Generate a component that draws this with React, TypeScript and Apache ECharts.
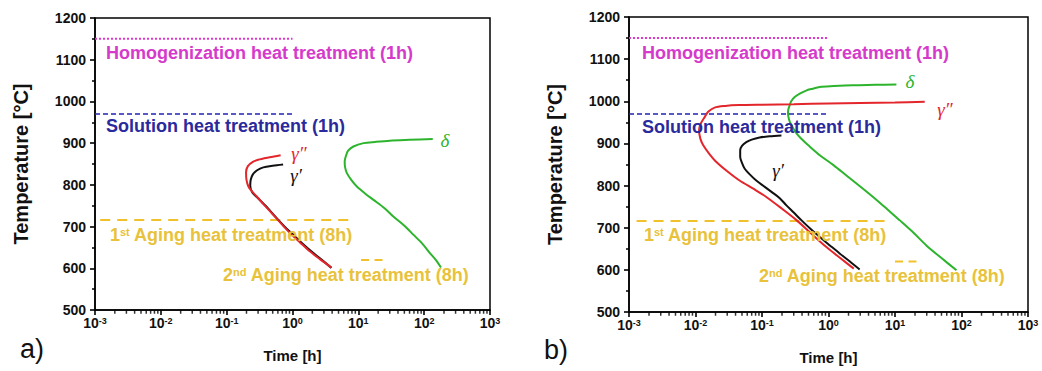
import React, { useEffect, useRef } from "react";
import * as echarts from "echarts";

// ---- Panel a) curves: [time (h), temperature (°C)]
const gppA_time = [0.66, 0.45, 0.3, 0.25, 0.21, 0.197, 0.2, 0.214, 0.24, 0.286, 0.37, 0.485, 0.74, 0.92, 1.3, 1.85, 2.6, 3.9];
const gppA_temp = [871, 866, 860, 855, 845, 830, 812, 796, 785, 772, 752, 732, 700, 684, 662, 640, 622, 602];
const gpA_time = [0.72, 0.5, 0.36, 0.29, 0.25, 0.232, 0.228, 0.245, 0.3, 0.4, 0.52, 0.78, 1.0, 1.4, 1.95, 2.7, 3.9];
const gpA_temp = [849, 846, 842, 835, 825, 812, 798, 782, 768, 748, 728, 698, 682, 660, 640, 622, 601];
const dA_time = [135, 60, 30, 18, 12, 8.4, 7, 6.5, 6.2, 6.3, 6.7, 7.8, 9.5, 12.5, 17, 25, 34, 50, 69, 95, 123, 150, 180];
const dA_temp = [910, 908, 906, 903, 900, 892, 882, 870, 856, 842, 828, 812, 796, 780, 764, 744, 724, 702, 680, 658, 636, 620, 602];

// ---- Panel b) curves
const gppB_time = [28, 10, 3, 1, 0.3, 0.1, 0.045, 0.028, 0.0194, 0.0155, 0.0138, 0.012, 0.0113, 0.0118, 0.013, 0.016, 0.0206, 0.03, 0.046, 0.075, 0.116, 0.2, 0.33, 0.55, 0.93, 1.5, 2.4];
const gppB_temp = [999, 997, 996, 995, 993, 992, 991, 989, 985, 975, 963, 947, 931, 912, 896, 876, 856, 834, 812, 792, 773, 745, 718, 686, 654, 628, 603];
const gpB_time = [0.196, 0.13, 0.092, 0.07, 0.058, 0.05, 0.047, 0.047, 0.05, 0.055, 0.066, 0.082, 0.11, 0.139, 0.185, 0.233, 0.3, 0.39, 0.53, 0.74, 1.05, 1.47, 2.1, 2.94];
const gpB_temp = [919, 917, 914, 909, 903, 894, 884, 868, 854, 840, 826, 812, 797, 785, 770, 753, 736, 718, 698, 678, 658, 639, 620, 601];
const dB_time = [10.5, 5, 2.3, 1.2, 0.74, 0.55, 0.47, 0.37, 0.31, 0.275, 0.26, 0.248, 0.246, 0.255, 0.277, 0.32, 0.39, 0.52, 0.74, 1.2, 1.86, 3, 4.68, 7.5, 11.7, 19, 29.6, 50, 84];
const dB_temp = [1040, 1039, 1038, 1036, 1034, 1029, 1026, 1018, 1010, 1000, 990, 980, 971, 957, 943, 927, 911, 893, 872, 848, 824, 798, 773, 745, 718, 688, 658, 628, 599];

// ---- Heat treatments: [startTime, endTime, temperature] per panel
const homogA = [0.001, 1, 1150];
const solutionA = [0.001, 1, 970];
const aging1A = [0.0012, 8, 716];
const aging2A = [11, 24, 620];
const homogB = [0.001, 1, 1150];
const solutionB = [0.001, 1, 970];
const aging1B = [0.0013, 8.3, 716];
const aging2B = [10, 21, 620];

// ---- Axes
const xMin = 0.001;
const xMax = 1000;
const yMin = 500;
const yMax = 1200;
const yInterval = 100;
const decades = [0.001, 0.01, 0.1, 1, 10, 100];
const minorMultipliers = [2, 3, 4, 5, 6, 7, 8, 9];

const FONT = '"Liberation Sans", Arial, sans-serif';
const GREEK = '"Liberation Serif", "DejaVu Serif", serif';

const C_MAG = "#e236d4";
const C_MAG_T = "#d63acb";
const C_NAVY = "#2323b2";
const C_NAVY_T = "#2a2a9c";
const C_GOLD = "#f1c12c";
const C_GOLD_T = "#e8c23a";
const C_RED = "#e3262b";
const C_GREEN = "#2db42d";
const C_BLACK = "#111111";

const zip = (t: number[], T: number[]) => t.map((v, i) => [v, T[i]]);

export default function App() {
  const ref = useRef<HTMLDivElement>(null);

  useEffect(() => {
    if (!ref.current) return;
    const chart = echarts.init(ref.current, undefined, { renderer: "svg" });

    const minorTicks: number[][] = [];
    decades.forEach((d) => minorMultipliers.forEach((m) => minorTicks.push([d * m, yMin])));

    const grids = [
      { left: 95, top: 18, width: 395, height: 292 },
      { left: 629, top: 17, width: 399, height: 295 },
    ];

    const xAxes = [0, 1].map((i) => ({
      type: "log",
      logBase: 10,
      gridIndex: i,
      min: xMin,
      max: xMax,
      name: "Time [h]",
      nameLocation: "middle",
      nameGap: 38,
      nameTextStyle: { fontFamily: FONT, fontWeight: "bold", fontSize: 15, color: "#111" },
      axisLine: { lineStyle: { color: "#000", width: 1.5 } },
      axisTick: { show: true, inside: false, length: 5, lineStyle: { color: "#000", width: 1.6 } },
      splitLine: { show: false },
      axisLabel: {
        margin: 6,
        formatter: (v: number) => `{b|10}{s|${Math.round(Math.log10(v))}}`,
        rich: {
          b: { fontFamily: FONT, fontWeight: "bold", fontSize: 14, color: "#111", verticalAlign: "bottom" },
          s: { fontFamily: FONT, fontWeight: "bold", fontSize: 9, color: "#111", verticalAlign: "top" },
        },
      },
    }));

    const yAxes = [0, 1].map((i) => ({
      type: "value",
      gridIndex: i,
      min: yMin,
      max: yMax,
      interval: yInterval,
      name: "Temperature [°C]",
      nameLocation: "middle",
      nameGap: 64,
      nameTextStyle: { fontFamily: FONT, fontWeight: "bold", fontSize: 20, color: "#111" },
      axisLine: { show: true, lineStyle: { color: "#000", width: 1.5 } },
      axisTick: { show: true, inside: false, length: 5, lineStyle: { color: "#000", width: 1.6 } },
      minorTick: { show: true, splitNumber: 2, length: 3, lineStyle: { color: "#000", width: 1.5 } },
      splitLine: { show: false },
      minorSplitLine: { show: false },
      axisLabel: {
        margin: 9,
        fontFamily: FONT,
        fontWeight: "bold",
        fontSize: 14,
        color: "#111",
        formatter: (v: number) => String(v),
      },
    }));

    const curve = (i: number, t: number[], T: number[], color: string) => ({
      type: "line",
      xAxisIndex: i,
      yAxisIndex: i,
      data: zip(t, T),
      showSymbol: false,
      symbol: "none",
      smooth: 0.3,
      silent: true,
      lineStyle: { color, width: 2 },
      z: 5,
    });

    const hline = (i: number, seg: number[], color: string, type: any, width: number) => ({
      type: "line",
      xAxisIndex: i,
      yAxisIndex: i,
      data: [
        [seg[0], seg[2]],
        [seg[1], seg[2]],
      ],
      showSymbol: false,
      symbol: "none",
      silent: true,
      lineStyle: { color, type, width },
      z: 3,
    });

    // log-axis minor ticks (2..9 in each decade), drawn below the bottom axis line
    const minorSeries = (i: number) => ({
      type: "scatter",
      xAxisIndex: i,
      yAxisIndex: i,
      data: minorTicks,
      silent: true,
      clip: false,
      symbol: "rect",
      symbolSize: [1.5, 3.5],
      symbolOffset: [0, 2],
      itemStyle: { color: "#000" },
      z: 6,
    });

    const series: any[] = [
      hline(0, homogA, C_MAG, [2, 2], 2),
      hline(0, solutionA, C_NAVY, [5, 3], 1.6),
      hline(0, aging1A, C_GOLD, [10, 7], 2),
      hline(0, aging2A, C_GOLD, [8, 5.5], 2),
      curve(0, dA_time, dA_temp, C_GREEN),
      curve(0, gpA_time, gpA_temp, C_BLACK),
      curve(0, gppA_time, gppA_temp, C_RED),
      minorSeries(0),
      hline(1, homogB, C_MAG, [2, 2], 2),
      hline(1, solutionB, C_NAVY, [5, 3], 1.6),
      hline(1, aging1B, C_GOLD, [10, 7], 2),
      hline(1, aging2B, C_GOLD, [8, 5.5], 2),
      curve(1, dB_time, dB_temp, C_GREEN),
      curve(1, gppB_time, gppB_temp, C_RED),
      curve(1, gpB_time, gpB_temp, C_BLACK),
      minorSeries(1),
    ];

    const label = (x: number, y: number, text: string, fill: string) => ({
      type: "text",
      x,
      y,
      z: 10,
      style: {
        text,
        fill,
        fontFamily: FONT,
        fontWeight: "bold",
        fontSize: 18,
        align: "left",
        verticalAlign: "middle",
      },
    });

    const ordLabel = (x: number, y: number, num: string, suf: string, rest: string) => ({
      type: "text",
      x,
      y,
      z: 10,
      style: {
        text: `{n|${num}}{s|${suf}}{n|${rest}}`,
        fill: C_GOLD_T,
        fontFamily: FONT,
        fontWeight: "bold",
        fontSize: 18,
        align: "left",
        verticalAlign: "middle",
        rich: {
          n: { fontFamily: FONT, fontWeight: "bold", fontSize: 18, fill: C_GOLD_T, verticalAlign: "bottom" },
          s: { fontFamily: FONT, fontWeight: "bold", fontSize: 11, fill: C_GOLD_T, verticalAlign: "top" },
        },
      },
    });

    const greek = (x: number, y: number, text: string, fill: string) => ({
      type: "text",
      x,
      y,
      z: 10,
      style: {
        text,
        fill,
        fontFamily: GREEK,
        fontStyle: "italic",
        fontSize: 19,
        align: "center",
        verticalAlign: "middle",
      },
    });

    const panelTag = (x: number, y: number, text: string) => ({
      type: "text",
      x,
      y,
      style: {
        text,
        fill: "#111",
        fontFamily: FONT,
        fontSize: 27,
        align: "left",
        verticalAlign: "middle",
      },
    });

    chart.setOption({
      animation: false,
      backgroundColor: "#ffffff",
      grid: grids.map((g) => ({ ...g, show: true, borderColor: "#000", borderWidth: 1.5, backgroundColor: "transparent" })),
      xAxis: xAxes,
      yAxis: yAxes,
      series,
      graphic: [
        label(106, 53, "Homogenization heat treatment (1h)", C_MAG_T),
        label(106, 126, "Solution heat treatment (1h)", C_NAVY_T),
        ordLabel(110, 235, "1", "st", " Aging heat treatment (8h)"),
        ordLabel(223, 275, "2", "nd", " Aging heat treatment (8h)"),
        greek(299, 153, "γ″", C_RED),
        greek(296, 175, "γ′", C_BLACK),
        greek(445, 140, "δ", C_GREEN),
        panelTag(20, 349, "a)"),
        label(642, 53, "Homogenization heat treatment (1h)", C_MAG_T),
        label(642, 127, "Solution heat treatment (1h)", C_NAVY_T),
        ordLabel(644, 235, "1", "st", " Aging heat treatment (8h)"),
        ordLabel(759, 276, "2", "nd", " Aging heat treatment (8h)"),
        greek(910, 81, "δ", C_GREEN),
        greek(945, 109, "γ″", C_RED),
        greek(778, 170, "γ′", C_BLACK),
        panelTag(544, 350, "b)"),
      ],
    });

    return () => chart.dispose();
  }, []);

  return (
    <div
      ref={ref}
      style={{ position: "fixed", left: 0, top: 0, width: 1042, height: 371, background: "#fff" }}
    />
  );
}
